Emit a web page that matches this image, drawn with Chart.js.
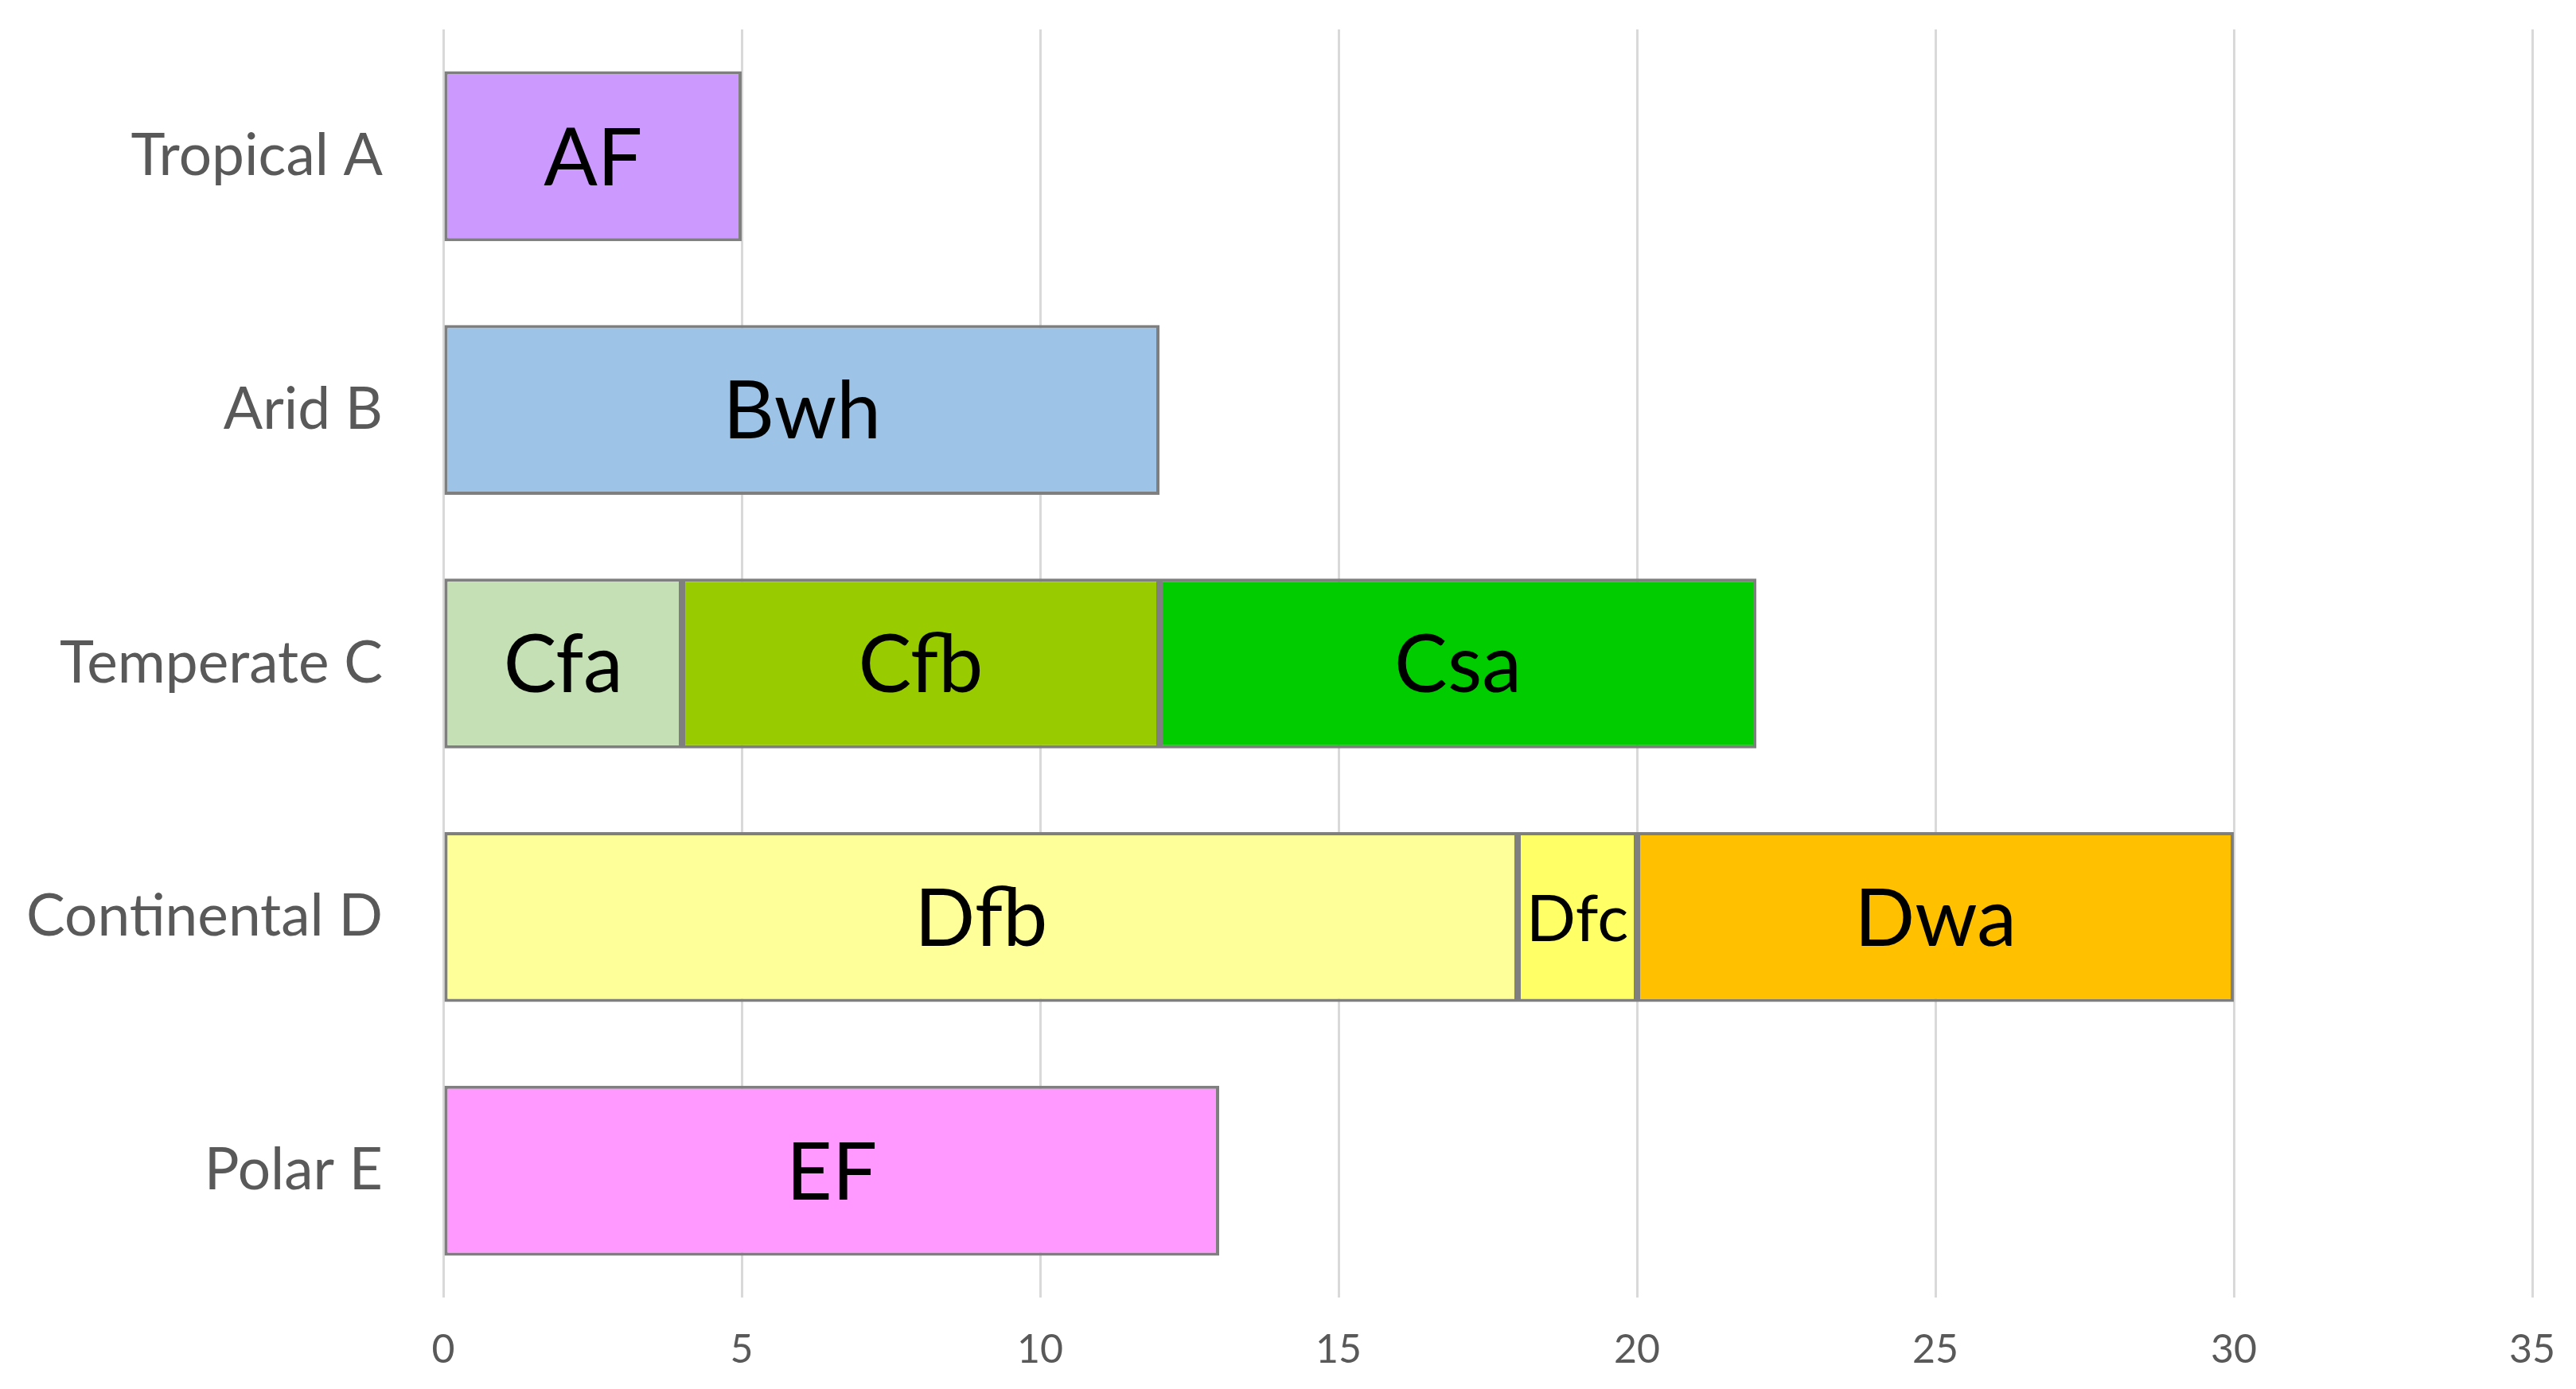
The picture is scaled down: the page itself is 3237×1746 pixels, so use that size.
<!DOCTYPE html>
<html lang="en">

<head>
    <meta charset="UTF-8">
    <title>Climate groups</title>
    <script src="https://cdn.jsdelivr.net/npm/chart.js@4.4.0/dist/chart.umd.min.js"></script>
    <style>
        html, body {
            margin: 0;
            padding: 0;
            background: #fff;
        }

        #wrap {
            width: 3237px;
            height: 1746px;
        }
    </style>
</head>

<body>
    <div id="wrap"><canvas id="chart"></canvas></div>

    <script>
        // categories on the y axis
        const categories = ['Tropical A', 'Arid B', 'Temperate C', 'Continental D', 'Polar E'];
        // one segment per climate code
        const codes = ['AF', 'Bwh', 'Cfa', 'Cfb', 'Csa', 'Dfb', 'Dfc', 'Dwa', 'EF'];
        const codeGroup = [0, 1, 2, 2, 2, 3, 3, 3, 4];
        const codeValues = [5, 12, 4, 8, 10, 18, 2, 10, 13];
        const codeColors = ['#CC99FF', '#9DC3E6', '#C5E0B4', '#99CC00', '#00CC00', '#FFFF99', '#FFFF66', '#FFC000', '#FF99FF'];
        const xTicks = [0, 5, 10, 15, 20, 25, 30, 35];

        const FONT = 'Lato';

        const datasets = codes.map((code, i) => {
            const data = categories.map((c, j) => j === codeGroup[i] ? codeValues[i] : null);
            return {
                label: code,
                data: data,
                backgroundColor: codeColors[i],
                borderColor: '#7F7F7F',
                borderWidth: 4,
                borderSkipped: false,
                categoryPercentage: 0.67,
                barPercentage: 1.0
            };
        });

        // write each code in the middle of its segment
        const segmentLabels = {
            id: 'segmentLabels',
            afterDatasetsDraw(chart) {
                const ctx = chart.ctx;
                ctx.save();
                ctx.fillStyle = '#000';
                ctx.textAlign = 'center';
                ctx.textBaseline = 'middle';
                chart.data.datasets.forEach((ds, i) => {
                    const meta = chart.getDatasetMeta(i);
                    meta.data.forEach((bar, j) => {
                        if (ds.data[j] == null) return;
                        const w = Math.abs(bar.x - bar.base);
                        const size = w < 200 ? 82 : 100;
                        ctx.font = size + 'px ' + FONT;
                        ctx.fillText(ds.label, (bar.x + bar.base) / 2, bar.y + 4);
                    });
                });
                ctx.restore();
            }
        };

        const ctx = document.getElementById('chart').getContext('2d');
        const myChart = new Chart(ctx, {
            type: 'bar',
            data: {
                labels: categories,
                datasets: datasets
            },
            plugins: [segmentLabels],
            options: {
                indexAxis: 'y',
                responsive: true,
                maintainAspectRatio: false,
                animation: false,
                layout: {
                    padding: { left: 0, right: 55, top: 37, bottom: 0 }
                },
                plugins: {
                    legend: { display: false },
                    tooltip: { enabled: false }
                },
                scales: {
                    x: {
                        stacked: true,
                        min: 0,
                        max: 35,
                        afterBuildTicks: (axis) => {
                            axis.ticks = xTicks.map(v => ({ value: v }));
                        },
                        afterFit: (axis) => {
                            axis.height = 115;
                            axis.paddingLeft = 0;
                            axis.paddingRight = 0;
                        },
                        grid: {
                            color: '#D9D9D9',
                            lineWidth: 3,
                            drawTicks: false
                        },
                        border: { display: false },
                        ticks: {
                            padding: 36,
                            color: '#595959',
                            font: { family: FONT, size: 50 }
                        }
                    },
                    y: {
                        stacked: true,
                        afterFit: (axis) => {
                            axis.width = 557;
                            axis.paddingTop = 0;
                            axis.paddingBottom = 0;
                        },
                        grid: { display: false },
                        border: { display: false },
                        ticks: {
                            padding: 68,
                            color: '#595959',
                            font: { family: FONT, size: 73 }
                        }
                    }
                }
            }
        });
    </script>

</body>

</html>
